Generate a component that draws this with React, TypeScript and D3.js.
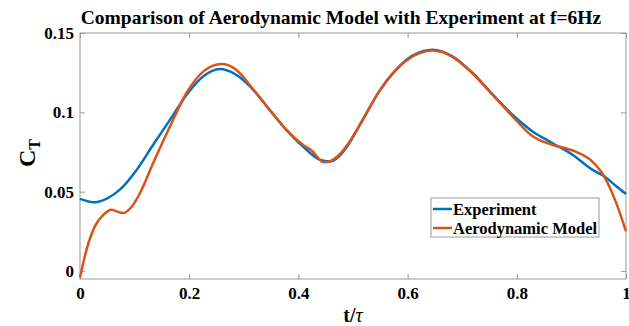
import React, { useEffect, useRef } from 'react';
import * as d3 from 'd3';

// thrust coefficient over one flapping period
const tExperiment = [0, 0.027, 0.05, 0.073, 0.104, 0.134, 0.165, 0.195, 0.226, 0.256, 0.286, 0.317, 0.347, 0.378, 0.408, 0.439, 0.457, 0.475, 0.494, 0.518, 0.548, 0.579, 0.609, 0.646, 0.682, 0.719, 0.756, 0.792, 0.829, 0.865, 0.902, 0.938, 0.96, 0.981, 1.0];
const ctExperiment = [0.0455, 0.0433, 0.0458, 0.0513, 0.0639, 0.0796, 0.0954, 0.111, 0.1227, 0.1273, 0.1237, 0.1143, 0.1017, 0.089, 0.0786, 0.0702, 0.069, 0.0725, 0.081, 0.0954, 0.1132, 0.1269, 0.1357, 0.1395, 0.1353, 0.1248, 0.1111, 0.0985, 0.088, 0.0807, 0.0733, 0.0639, 0.0597, 0.0538, 0.0485];

const tModel = [0, 0.012, 0.027, 0.043, 0.058, 0.067, 0.079, 0.095, 0.11, 0.134, 0.165, 0.195, 0.226, 0.259, 0.286, 0.317, 0.347, 0.378, 0.408, 0.428, 0.433, 0.446, 0.457, 0.475, 0.494, 0.518, 0.548, 0.579, 0.609, 0.646, 0.682, 0.719, 0.756, 0.792, 0.829, 0.865, 0.902, 0.938, 0.96, 0.981, 1.0];
const ctModel = [-0.004, 0.0135, 0.028, 0.0355, 0.0387, 0.0376, 0.0366, 0.0407, 0.0492, 0.0681, 0.0912, 0.1122, 0.1258, 0.1305, 0.1269, 0.1146, 0.1017, 0.089, 0.0796, 0.0748, 0.0726, 0.0685, 0.0691, 0.0733, 0.0817, 0.0954, 0.1132, 0.1269, 0.1352, 0.1389, 0.135, 0.1245, 0.111, 0.0975, 0.0849, 0.0796, 0.076, 0.0691, 0.0597, 0.0439, 0.025];

const xTicks = [0, 0.2, 0.4, 0.6, 0.8, 1];
const yTicks = [0, 0.05, 0.1, 0.15];
const seriesNames = ['Experiment', 'Aerodynamic Model'];
const seriesColors = ['#0072BD', '#D95319'];

const FONT = '"Liberation Serif", "Times New Roman", serif';
const AXIS_GREY = '#9a9a9a';

export default function App() {
  const ref = useRef<SVGSVGElement>(null);

  useEffect(() => {
    const svg = d3.select(ref.current);
    svg.selectAll('*').remove();

    const margin = { top: 33, right: 3, bottom: 47, left: 80 };
    const width = 629 - margin.left - margin.right;
    const height = 326 - margin.top - margin.bottom;

    const g = svg.append('g').attr('transform', `translate(${margin.left},${margin.top})`);

    const x = d3.scaleLinear().domain([0, 1]).range([0, width]);
    const y = d3.scaleLinear().domain([-0.005, 0.15]).range([height, 0]);
    const fmt = (d: any) => String(d);

    // frame
    g.append('rect')
      .attr('width', width)
      .attr('height', height)
      .attr('fill', 'none')
      .attr('stroke', AXIS_GREY)
      .attr('stroke-width', 1);

    // bottom + top axes, ticks pointing inward
    const bottom = g.append('g')
      .attr('transform', `translate(0,${height})`)
      .call(d3.axisBottom(x).tickValues(xTicks).tickSizeInner(-5).tickSizeOuter(0).tickPadding(8).tickFormat(fmt));
    const top = g.append('g')
      .call(d3.axisTop(x).tickValues(xTicks).tickSizeInner(-5).tickSizeOuter(0).tickFormat(() => ''));
    const left = g.append('g')
      .call(d3.axisLeft(y).tickValues(yTicks).tickSizeInner(-5).tickSizeOuter(0).tickPadding(6).tickFormat(fmt));
    const right = g.append('g')
      .attr('transform', `translate(${width},0)`)
      .call(d3.axisRight(y).tickValues(yTicks).tickSizeInner(-5).tickSizeOuter(0).tickFormat(() => ''));

    [bottom, top, left, right].forEach(a => {
      a.select('.domain').remove();
      a.selectAll('line').attr('stroke', AXIS_GREY);
      a.selectAll('text')
        .attr('fill', '#000')
        .style('font-family', FONT)
        .style('font-weight', 'bold')
        .style('font-size', '17px');
    });

    // curves
    const line = d3.line<[number, number]>()
      .x(d => x(d[0]))
      .y(d => y(d[1]))
      .curve(d3.curveMonotoneX);

    const expPts = tExperiment.map((t, i) => [t, ctExperiment[i]] as [number, number]);
    const modPts = tModel.map((t, i) => [t, ctModel[i]] as [number, number]);

    g.append('path')
      .datum(expPts)
      .attr('d', line)
      .attr('fill', 'none')
      .attr('stroke', seriesColors[0])
      .attr('stroke-width', 2.5);

    g.append('path')
      .datum(modPts)
      .attr('d', line)
      .attr('fill', 'none')
      .attr('stroke', seriesColors[1])
      .attr('stroke-width', 2.5);

    // title
    svg.append('text')
      .attr('x', 341)
      .attr('y', 24)
      .attr('text-anchor', 'middle')
      .style('font-family', FONT)
      .style('font-weight', 'bold')
      .style('font-size', '19.5px')
      .attr('fill', '#000')
      .text('Comparison of Aerodynamic Model with Experiment at f=6Hz');

    // x label
    const xl = svg.append('text')
      .attr('x', margin.left + width / 2)
      .attr('y', 322)
      .attr('text-anchor', 'middle')
      .style('font-family', FONT)
      .style('font-weight', 'bold')
      .style('font-size', '20px')
      .attr('fill', '#000');
    xl.append('tspan').text('t/');
    xl.append('tspan').style('font-style', 'italic').style('font-weight', 'normal').text('τ');

    // y label
    const yl = svg.append('text')
      .attr('transform', `translate(35,153) rotate(-90)`)
      .attr('text-anchor', 'middle')
      .style('font-family', FONT)
      .style('font-weight', 'bold')
      .style('font-size', '24px')
      .attr('fill', '#000');
    yl.append('tspan').text('C');
    yl.append('tspan').attr('dy', 5).style('font-size', '16px').text('T');

    // legend
    const legend = svg.append('g').attr('transform', 'translate(431,198)');
    legend.append('rect')
      .attr('width', 168)
      .attr('height', 39)
      .attr('fill', 'white')
      .attr('stroke', AXIS_GREY);

    legend.selectAll('g.item').data(seriesNames)
      .enter()
      .append('g')
      .attr('class', 'item')
      .each(function (d, i) {
        const item = d3.select(this);
        item.append('line')
          .attr('x1', 2).attr('x2', 21)
          .attr('y1', 11 + i * 19).attr('y2', 11 + i * 19)
          .attr('stroke', seriesColors[i])
          .attr('stroke-width', 2.5);
        item.append('text')
          .attr('x', 22)
          .attr('y', 11 + i * 19 + 5.5)
          .style('font-family', FONT)
          .style('font-weight', 'bold')
          .style('font-size', '16.5px')
          .attr('fill', '#000')
          .text(d);
      });
  }, []);

  return (
    <svg ref={ref} width={629} height={326} style={{ position: 'absolute', left: 0, top: 0, background: 'white' }} />
  );
}
